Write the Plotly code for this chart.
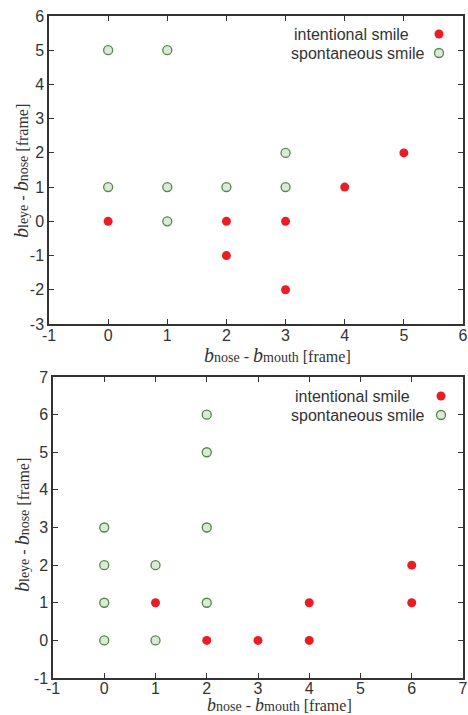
import plotly.graph_objects as go

W, H = 468, 715

# ---- data ----
top_int_x = [0, 2, 2, 3, 3, 4, 5]
top_int_y = [0, 0, -1, 0, -2, 1, 2]
top_spo_x = [0, 1, 0, 1, 2, 3, 3, 1]
top_spo_y = [5, 5, 1, 1, 1, 1, 2, 0]

bot_int_x = [1, 2, 3, 4, 4, 6, 6]
bot_int_y = [1, 0, 0, 1, 0, 2, 1]
bot_spo_x = [0, 0, 0, 0, 1, 1, 2, 2, 2, 2]
bot_spo_y = [3, 2, 1, 0, 2, 0, 6, 5, 3, 1]

top_xticks = [-1, 0, 1, 2, 3, 4, 5, 6]
top_yticks = [-3, -2, -1, 0, 1, 2, 3, 4, 5, 6]
bot_xticks = [-1, 0, 1, 2, 3, 4, 5, 6, 7]
bot_yticks = [-1, 0, 1, 2, 3, 4, 5, 6, 7]

legend_labels = ["intentional smile", "spontaneous smile"]

RED = "#ec1c24"
GFILL = "#dce8dc"
GLINE = "#4e8b3e"
AX = "#333333"
TXT = "#333333"
SANS = "Liberation Sans, Arial, sans-serif"
SERIF = "Liberation Serif, Times New Roman, serif"

def px_x(p):
    return p / W

def px_y(p):
    return 1 - p / H

def lbl(vals):
    return [str(v) for v in vals]  # plain hyphen-minus like the original

fig = go.Figure()

red_marker = dict(color=RED, size=9, line=dict(width=0))
grn_marker = dict(color=GFILL, size=9, line=dict(color=GLINE, width=1.3))

fig.add_trace(go.Scatter(x=top_spo_x, y=top_spo_y, mode="markers", marker=grn_marker, xaxis="x", yaxis="y", showlegend=False))
fig.add_trace(go.Scatter(x=top_int_x, y=top_int_y, mode="markers", marker=red_marker, xaxis="x", yaxis="y", showlegend=False))
fig.add_trace(go.Scatter(x=bot_spo_x, y=bot_spo_y, mode="markers", marker=grn_marker, xaxis="x2", yaxis="y2", showlegend=False))
fig.add_trace(go.Scatter(x=bot_int_x, y=bot_int_y, mode="markers", marker=red_marker, xaxis="x2", yaxis="y2", showlegend=False))

tickfont = dict(family=SANS, size=16, color=TXT)

def xax(domain, rng, anchor, ticks, standoff):
    return dict(domain=domain, range=rng, anchor=anchor, tickvals=ticks, ticktext=lbl(ticks),
                showgrid=False, zeroline=False, showline=True, linecolor=AX, linewidth=1.5,
                mirror="ticks", ticks="inside", ticklen=5, tickcolor=AX, tickwidth=1,
                tickfont=tickfont, fixedrange=True, automargin=False, ticklabelstandoff=standoff)

def yax(domain, rng, anchor, ticks):
    return dict(domain=domain, range=rng, anchor=anchor, tickvals=ticks, ticktext=lbl(ticks),
                showgrid=False, zeroline=False, showline=True, linecolor=AX, linewidth=1.5,
                mirror="ticks", ticks="inside", ticklen=5, tickcolor=AX, tickwidth=1,
                tickfont=tickfont, fixedrange=True, automargin=False)

top_xd = [px_x(49), px_x(463)]
top_yd = [px_y(324), px_y(16)]
bot_xd = [px_x(53), px_x(463)]
bot_yd = [px_y(678), px_y(377)]

fig.update_layout(
    width=W, height=H,
    margin=dict(l=0, r=0, t=0, b=0, autoexpand=False),
    paper_bgcolor="white", plot_bgcolor="white",
    xaxis=xax(top_xd, [-1, 6], "y", top_xticks, -4),
    yaxis=yax(top_yd, [-3, 6], "x", top_yticks),
    xaxis2=xax(bot_xd, [-1, 7], "y2", bot_xticks, -5),
    yaxis2=yax(bot_yd, [-1, 7], "x2", bot_yticks),
)

def title(sub1, sub2, big=20, small=14, mid=16):
    return (f"<i><span style='font-size:{big}px'>b</span></i><span style='font-size:{small}px'>{sub1}</span>"
            f"<span style='font-size:{mid}px'> - </span>"
            f"<i><span style='font-size:{big}px'>b</span></i><span style='font-size:{small}px'>{sub2}</span>"
            f"<span style='font-size:{mid}px'> [frame]</span>")

ann_font = dict(family=SERIF, size=16, color=TXT)
annotations = [
    dict(text=title("nose", "mouth"), xref="paper", yref="paper", x=px_x(277), y=px_y(355), xanchor="center", yanchor="middle", showarrow=False, font=ann_font),
    dict(text=title("nose", "mouth", big=18), xref="paper", yref="paper", x=px_x(279), y=px_y(705), xanchor="center", yanchor="middle", showarrow=False, font=ann_font),
    dict(text=title("leye", "nose"), xref="paper", yref="paper", x=px_x(21), y=px_y(171), xanchor="center", yanchor="middle", textangle=-90, showarrow=False, font=ann_font),
    dict(text=title("leye", "nose"), xref="paper", yref="paper", x=px_x(22), y=px_y(525), xanchor="center", yanchor="middle", textangle=-90, showarrow=False, font=ann_font),
]

leg_font = dict(family=SANS, size=16, color=TXT)
legend_rows = [
    # (label index, text right px, y px, marker x px, is_red)
    (0, 411, 34, 439, True),
    (1, 427, 53, 439, False),
    (0, 412, 396, 441, True),
    (1, 427, 415, 441, False),
]
shapes = []
for idx, tr, yy, mx, red in legend_rows:
    annotations.append(dict(text=legend_labels[idx], xref="paper", yref="paper", x=px_x(tr), y=px_y(yy),
                            xanchor="right", yanchor="middle", showarrow=False, font=leg_font))
    shapes.append(dict(type="circle", xref="paper", yref="paper", xsizemode="pixel", ysizemode="pixel",
                       xanchor=px_x(mx), yanchor=px_y(yy), x0=-4.5, x1=4.5, y0=-4.5, y1=4.5,
                       fillcolor=RED if red else GFILL,
                       line=dict(color=RED if red else GLINE, width=0 if red else 1.3)))

fig.update_layout(annotations=annotations, shapes=shapes)

fig.write_html("out.html")
